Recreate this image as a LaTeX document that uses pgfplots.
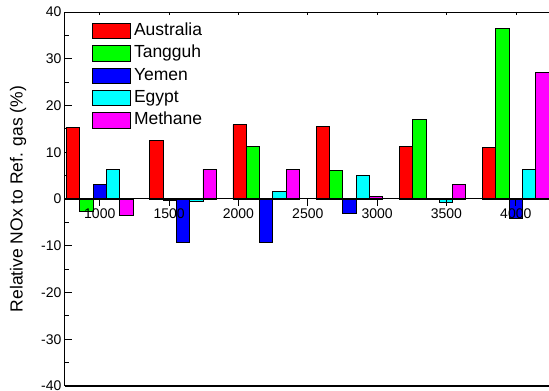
\documentclass[border=0pt]{standalone}
\usepackage{fontspec}
\setmainfont{Liberation Sans}
\usepackage{pgfplots}
\pgfplotsset{compat=1.18}
\definecolor{cRed}{RGB}{255,0,0}
\definecolor{cGreen}{RGB}{0,255,0}
\definecolor{cBlue}{RGB}{0,0,255}
\definecolor{cCyan}{RGB}{0,255,255}
\definecolor{cMag}{RGB}{255,0,255}
\begin{document}
\begin{tikzpicture}
\pgfplotsset{
  barst/.style={fill=#1, draw=black, line width=0.8bp,
    legend image code/.code={\draw[##1] (0bp,-7.6bp) rectangle (38bp,7.6bp);}},
  common/.style={width=484bp, scale only axis,
    xmin=0.582, xmax=6.399,
    xtick={1,1.83333,2.66667,3.5,4.33333,5.16667,6}, minor x tick num=1},
}
% top line with ticks
\begin{axis}[common, height=374bp, ymin=-40, ymax=40, at={(0bp,0bp)}, anchor=south west,
  axis x line*=top, axis y line=none, xticklabels={},
  tick align=inside, major tick length=3bp, minor tick length=3bp,
  axis line style={-, black, line width=0.9bp}, tick style={line width=0.6bp, black}]
\addplot[draw=none] coordinates {(1,0)};
\end{axis}
\begin{axis}[common, height=374bp, ymin=-40, ymax=40, at={(0bp,0bp)}, anchor=south west,
  axis x line=none, axis y line=left,
  axis line style={-, black, line width=1bp},
  ytick={-40,-30,...,40}, minor y tick num=1,
  tick align=inside,
  major tick length=6.7bp, minor tick length=4bp,
  tick style={black, line width=0.8bp},
  ticklabel style={font=\fontsize{14bp}{16bp}\selectfont},
  /pgf/number format/assume math mode=true,
  ybar, bar width=0.16, clip=false,
  xlabel={Engine speed (RPM)}, ylabel={Relative NOx to Ref. gas (\%)},
  every axis x label/.style={at={(axis description cs:0.5,0.317)}, anchor=base, font=\fontsize{17.5bp}{21bp}\selectfont},
  every axis y label/.style={at={(axis description cs:-0.0971,0.5)}, rotate=90, anchor=center, font=\fontsize{17.5bp}{21bp}\selectfont},
  legend style={draw=none, fill=none, at={(axis description cs:0.0558,0.972)}, anchor=north west,
    font=\fontsize{17.5bp}{21bp}\selectfont, inner sep=0pt, row sep=5.3bp,
    nodes={text height=13bp, text depth=4bp, inner ysep=0pt, inner xsep=3bp}},
  legend cell align=left,
]
\addplot[barst=cRed, bar shift=-0.32] coordinates {(1,15.4) (2,12.6) (3,15.9) (4,15.6) (5,11.3) (6,11.1)};
\addplot[barst=cGreen, bar shift=-0.16] coordinates {(1,-2.6) (2,-0.4) (3,11.3) (4,6.1) (5,17.1) (6,36.4)};
\addplot[barst=cBlue, bar shift=0] coordinates {(1,3.1) (2,-9.3) (3,-9.3) (4,-3.1) (5,0.1) (6,-4.2)};
\addplot[barst=cCyan, bar shift=0.16] coordinates {(1,6.4) (2,-0.5) (3,1.6) (4,5.0) (5,-0.8) (6,6.3)};
\addplot[barst=cMag, bar shift=0.32] coordinates {(1,-3.6) (2,6.4) (3,6.3) (4,0.6) (5,3.1) (6,27.1)};
\legend{Australia,Tangguh,Yemen,Egypt,Methane}
\draw[line width=2bp, black] (rel axis cs:0,0) -- (rel axis cs:1,0);
\coordinate (SW) at (rel axis cs:0,0);
\coordinate (NE) at (rel axis cs:1,1);
\end{axis}
% zero line with ticks and labels
\begin{axis}[common, height=187bp, ymin=0, ymax=1, at={(0bp,187bp)}, anchor=south west,
  axis x line*=bottom, axis y line=none,
  xticklabels={1000,1500,2000,2500,3000,3500,4000},
  tick align=outside, major tick length=6.7bp, minor tick length=4bp,
  axis line style={-, black, line width=1bp}, tick style={line width=0.8bp, black},
  ticklabel style={font=\fontsize{14bp}{16bp}\selectfont},
  /pgf/number format/assume math mode=true]
\addplot[draw=none] coordinates {(1,0.5)};
\end{axis}
\pgfresetboundingbox
\path[use as bounding box] ([xshift=-65bp,yshift=-5bp]SW) rectangle ([yshift=12bp]NE);
\end{tikzpicture}
\end{document}
